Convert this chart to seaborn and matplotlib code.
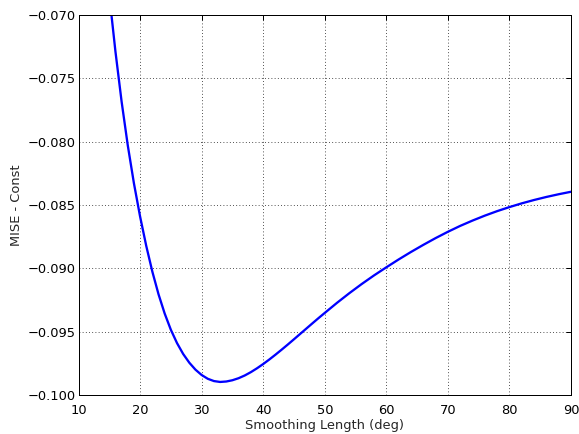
import numpy as np
import pandas as pd
import matplotlib
matplotlib.use("Agg")
import matplotlib.pyplot as plt
import seaborn as sns

smoothing_length = [15, 16, 17, 18, 19, 20, 21, 22, 23, 24, 25, 26, 27, 28, 29, 30,
                    31, 32, 33, 34, 35, 36, 37, 38, 39, 40, 41, 42, 43, 44, 45, 46,
                    47, 48, 49, 50, 52, 54, 56, 58, 60, 62, 64, 66, 68, 70, 72, 74,
                    76, 78, 80, 82, 84, 86, 88, 90]
mise_const = [-0.06843, -0.07288, -0.07683, -0.08028, -0.08328, -0.08590, -0.08822,
              -0.09027, -0.09205, -0.09357, -0.09485, -0.09590, -0.09676, -0.09745,
              -0.09800, -0.09842, -0.09872, -0.09890, -0.09897, -0.098935, -0.098835,
              -0.098675, -0.09846, -0.098195, -0.09789, -0.097555, -0.097195, -0.096815,
              -0.09642, -0.096015, -0.09560, -0.09518, -0.09476, -0.09434, -0.093925,
              -0.09352, -0.09272, -0.09196, -0.09124, -0.09056, -0.08992, -0.08930,
              -0.08871, -0.08815, -0.087615, -0.087115, -0.08665, -0.08623, -0.08584,
              -0.085485, -0.085165, -0.08487, -0.084605, -0.084365, -0.08415, -0.083955]
x_ticks = [10, 20, 30, 40, 50, 60, 70, 80, 90]
y_ticks = [-0.100, -0.095, -0.090, -0.085, -0.080, -0.075, -0.070]

df = pd.DataFrame({"x": smoothing_length, "y": mise_const})

sns.set_style("white")
plt.rcParams["font.family"] = ["DejaVu Sans"]
plt.rcParams["font.size"] = 13

fig = plt.figure(figsize=(579 / 72, 434 / 72), dpi=72)
ax = fig.add_axes([78.5 / 579, 1 - 395 / 434, (571 - 78.5) / 579, (395 - 15) / 434])

sns.lineplot(data=df, x="x", y="y", ax=ax, color=(0, 0, 1), linewidth=2.3, sort=False)

ax.set_xlim(10, 90)
ax.set_ylim(-0.100, -0.070)
ax.set_xticks(x_ticks)
ax.set_yticks(y_ticks)
ax.set_yticklabels([f"{v:.3f}".replace("-", "\u2212") for v in y_ticks])
ax.set_xlabel("Smoothing Length (deg)", fontsize=13, labelpad=2)
ax.set_ylabel("MISE - Const", fontsize=13, labelpad=4)
ax.grid(True, linestyle=(0, (1, 3)), color="black", linewidth=0.8)
ax.tick_params(direction="in", length=5, width=1, top=True, right=True, labelsize=13,
               colors="black")
ax.tick_params(axis="x", pad=9)
ax.tick_params(axis="y", pad=3)
for s in ax.spines.values():
    s.set_color("black")
    s.set_linewidth(1)
    s.set_visible(True)

fig.savefig("out.png", dpi=72)
